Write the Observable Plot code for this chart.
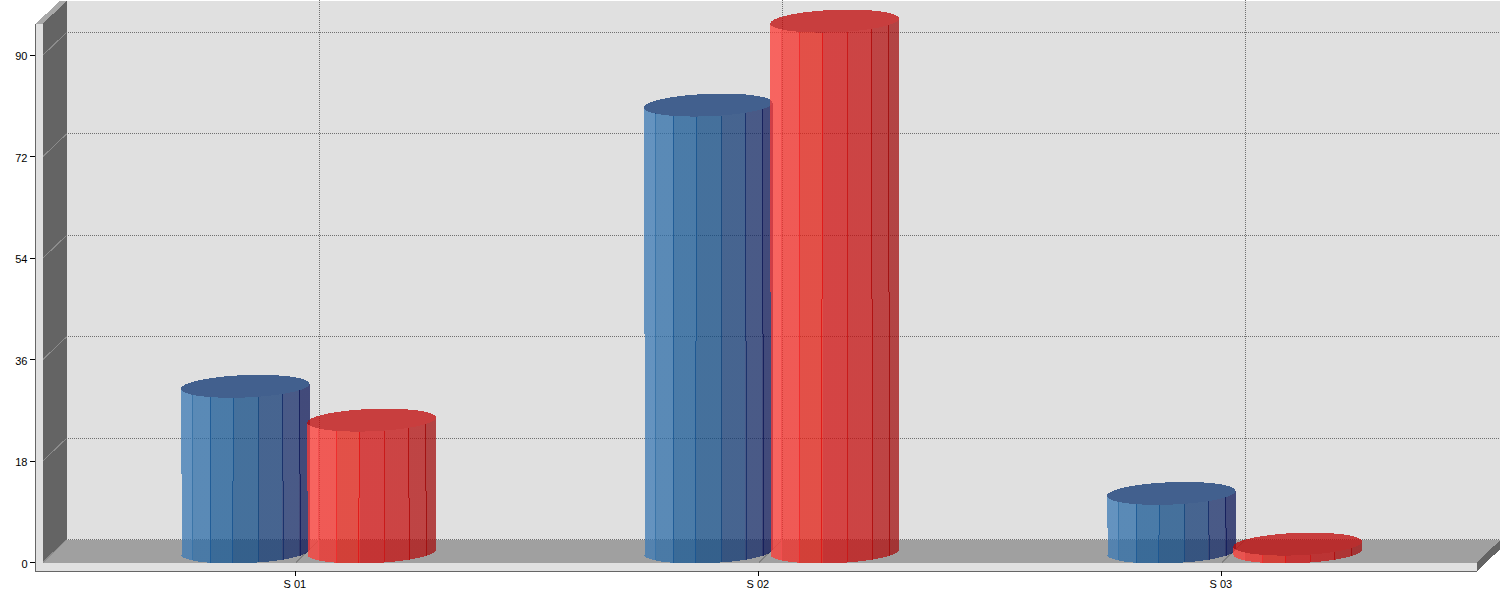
<!DOCTYPE html>
<html><head><meta charset="utf-8">
<script src="https://cdn.jsdelivr.net/npm/d3@7"></script>
<script src="https://cdn.jsdelivr.net/npm/@observablehq/plot@0.6"></script>
<style>html,body{margin:0;padding:0;background:#fff}svg{display:block}svg text{opacity:.999}</style>
</head><body><div id="chart"></div>
<script>
// ---- data
const categories = ["S 01", "S 02", "S 03"];
const seriesA = [29.4, 79.3, 10.4];
const seriesB = [23.4, 94.2, 1.4];
const yTicks = [0, 18, 36, 54, 72, 90];

// ---- style: observed colours, one per facet of a cylinder, left to right
const ALPHA = 0.75;
const bluePalette = {
  faces: [[100,147,191],[90,138,182],[74,123,168],[69,112,156],[70,100,144],[73,90,135],[66,74,122]],
  top: [66,96,142],
  lines: ["#3a74a8","#1f5c96","#1b5690","#1a4a80","#18306a","#151f5c"]
};
const redPalette = {
  faces: [[255,100,96],[240,90,85],[226,80,72],[212,68,68],[204,68,68],[190,68,68],[178,68,68]],
  top: [200,62,62],
  lines: ["#f05050","#ee2c2c","#e01818","#c81818","#b01010","#a01010"]
};
// a colour seen over the wall -> source colour under ALPHA
const unmix = c => { const f = v => Math.max(0, Math.min(255, Math.round((v - 224 * (1 - ALPHA)) / ALPHA)));
  return `rgb(${f(c[0])},${f(c[1])},${f(c[2])})`; };

// ---- layout: scale calibration and the projected 3-D frame
const PX_CAT = 463, PX_VAL = 5.636, X0 = 296, Y0 = 562;
const ux = p => (p - X0) / PX_CAT;
const uy = p => (Y0 - p) / PX_VAL;
const ddx = 24 / PX_CAT, ddy = 23 / PX_VAL;            // depth of the box
const xL = ux(36), xW = ux(43), xR = ux(1477), xE = ux(1501);
const vB = uy(571), vT = uy(0), v0 = 0, vTop = uy(23.5);
// cylinder geometry (the ellipses are sheared: right tip higher than left tip)
const CW = 128.7 / PX_CAT, RY = 11.2 / PX_VAL, SHEAR = 2.5 / PX_VAL, LIFT = 10.5 / PX_VAL;
const offs = [(245.35 - X0) / PX_CAT, (371.8 - X0) / PX_CAT];
const facetPx = [-53, -35, -12, 13, 37, 54];
const facets = facetPx.map(d => d / PX_CAT);
const stepA = [0, 0, -1, 0, 1, 0].map(d => d / PX_CAT);
const edgeStep = 1 / PX_CAT;

const poly = (pts, o) => Plot.line(pts, {x: d => d[0], y: d => d[1], stroke: "none", ...o});

const ePoint = (cx, cy, a, t) => [cx + a * Math.cos(t), cy - RY * Math.sin(t) + SHEAR * Math.cos(t)];
const ell = (cx, cy, a) => d3.range(0, 73).map(i => ePoint(cx, cy, a, i / 72 * 2 * Math.PI));
const arc = (cx, cy, a, from, to, n = 36) => d3.range(n + 1).map(i => ePoint(cx, cy, a, from + (to - from) * i / n));

function bar(i, s, value, pal, grad) {
  const cx = i + offs[s], a = CW / 2, topV = value + LIFT, baseV = LIFT;
  const midV = (topV + baseV) / 2;
  const kink1 = midV - 5 / PX_VAL, kink2 = midV - 12 / PX_VAL;
  const hasKink = value > 5;
  const left = cx - a;
  const topArc = arc(cx, topV, a, Math.PI, 0);
  const baseArc = arc(cx, baseV, a, 0, Math.PI);
  const lastBase = baseArc[baseArc.length - 1][1];
  const body = hasKink
    ? [[left, kink1], ...topArc, ...baseArc, [left + edgeStep, lastBase], [left + edgeStep, kink1]]
    : [...topArc, ...baseArc];
  const lines = facets.map((f, k) => {
    const h = Math.sqrt(1 - (f / a) ** 2) * RY - SHEAR * (f / a);
    const y1 = topV - h, y2 = baseV - h;
    const br = k === 5 ? kink1 : kink2;
    const st = k === 5 ? edgeStep : stepA[k];
    const col = pal.lines[k];
    return hasKink
      ? [{x1: cx + f, x2: cx + f, y1, y2: br, c: col}, {x1: cx + f + st, x2: cx + f + st, y1: br, y2, c: col}]
      : [{x1: cx + f, x2: cx + f, y1, y2, c: col}];
  }).flat();
  return [
    poly(body, {fill: `url(#${grad})`, fillOpacity: ALPHA}),
    Plot.link(lines, {x1: "x1", x2: "x2", y1: "y1", y2: "y2", stroke: d => d.c, strokeWidth: 1, strokeOpacity: 0.95}),
    poly(ell(cx, topV, a), {fill: unmix(pal.top), fillOpacity: ALPHA})
  ];
}

const defs = () => {
  const d = d3.create("svg:defs");
  const edges = [0, ...facetPx.map(p => (p + 64.35) / 128.7), 1];
  for (const [id, pal] of [["gradA", bluePalette], ["gradB", redPalette]]) {
    const g = d.append("linearGradient").attr("id", id).attr("x1", 0).attr("x2", 1).attr("y1", 0).attr("y2", 0);
    pal.faces.forEach((c, k) => {
      g.append("stop").attr("offset", edges[k]).attr("stop-color", unmix(c));
      g.append("stop").attr("offset", edges[k + 1]).attr("stop-color", unmix(c));
    });
  }
  return d.node();
};

const chart = Plot.plot({
  width: 1500, height: 600, marginLeft: 35, marginRight: 0, marginTop: 0, marginBottom: 29,
  style: {fontFamily: "'Liberation Sans', Arial, sans-serif", fontSize: "11px", background: "#fff", color: "#000", shapeRendering: "crispEdges"},
  x: {type: "linear", domain: [xL, xE], range: [35.3, 1500.3]},
  y: {type: "linear", domain: [vB, vT], range: [571, 0]},
  marks: [
    defs,
    // back wall
    poly([[xW + ddx, vT], [xE, vT], [xE, v0 + ddy], [xW + ddx, v0 + ddy]], {fill: "#e0e0e0"}),
    // left wall
    poly([[xW, vTop], [xW + ddx, vT], [xW + ddx, v0 + ddy], [xW, v0]], {fill: "#646464"}),
    // front strip of the wall, with its top bevel
    poly([[xL, vTop], [xL + ddx, vT], [xW + ddx, vT], [xW, vTop]], {fill: "#a8a8a8"}),
    poly([[xL, vTop], [xW, vTop], [xW, vB], [xL, vB]], {fill: "#e0e0e0"}),
    // floor
    poly([[xW, v0], [xW + ddx, v0 + ddy], [xR + ddx, v0 + ddy], [xR, v0]], {fill: "#a0a0a0"}),
    poly([[xL, v0], [xR, v0], [xR, vB], [xL, vB]], {fill: "#e0e0e0"}),
    poly([[xR, v0], [xR + ddx, v0 + ddy], [xR + ddx, vB + ddy], [xR, vB]], {fill: "#646464"}),
    // frame outline
    Plot.link([{a: xL, b: vTop, c: xL, d: vB}, {a: xL, b: vB, c: xR, d: vB}], {x1: "a", y1: "b", x2: "c", y2: "d", stroke: "#666", strokeWidth: 1}),
    // gridlines
    Plot.link(yTicks, {x1: xW, y1: d => d, x2: xW + ddx, y2: d => d + ddy, stroke: "#8c8c8c", strokeWidth: 1, shapeRendering: "auto"}),
    Plot.ruleY(yTicks.map(v => v + ddy), {x1: xW + ddx, x2: xE, stroke: "#707070", strokeWidth: 1, strokeDasharray: "1,1"}),
    Plot.ruleX(categories.map((_, i) => i + ddx), {y1: v0 + ddy, y2: vT, stroke: "#707070", strokeWidth: 1, strokeDasharray: "1,1"}),
    Plot.link(categories.map((_, i) => i), {x1: d => d, y1: v0, x2: d => d + ddx, y2: v0 + ddy, stroke: "#808080", strokeWidth: 1, shapeRendering: "auto"}),
    // cylinders
    ...categories.flatMap((_, i) => [
      ...bar(i, 0, seriesA[i], bluePalette, "gradA"),
      ...bar(i, 1, seriesB[i], redPalette, "gradB")
    ]),
    // axes
    Plot.axisY({ticks: yTicks, tickSize: 5, anchor: "left", label: null, stroke: "#000", fill: "none"}),
    Plot.axisY({ticks: yTicks, tickSize: 0, tickPadding: 8, anchor: "left", label: null, dy: 1.5}),
    Plot.axisX({ticks: [0, 1, 2], tickSize: 5, anchor: "bottom", label: null, stroke: "#000", fill: "none"}),
    Plot.axisX({ticks: [0, 1, 2], tickSize: 0, tickPadding: 9, anchor: "bottom", label: null, dx: -1, tickFormat: i => categories[i]})
  ]
});
document.getElementById("chart").append(chart);
</script>
</body></html>
